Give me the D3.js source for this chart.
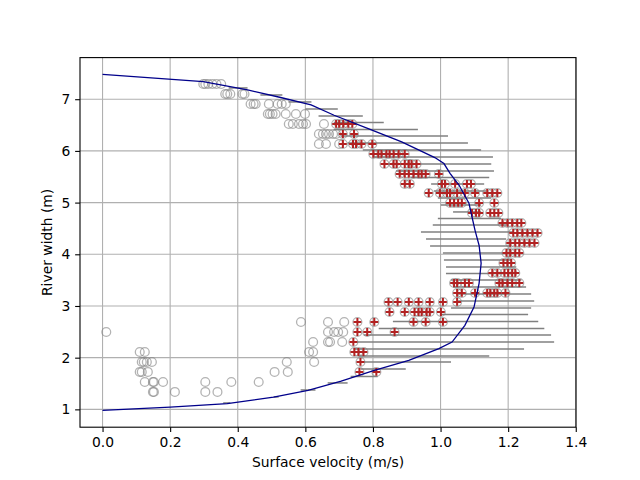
<!DOCTYPE html>
<html><head><meta charset="utf-8">
<script src="https://cdn.jsdelivr.net/npm/d3@7"></script>
<style>body{margin:0;background:#fff}svg{display:block}text{font-family:"DejaVu Sans",sans-serif}</style>
</head><body><svg id="c" width="640" height="480"></svg>
<script>
// Row positions (river width, m) of the measured samples
const rowWidth = [7.295,7.101,6.908,6.714,6.521,6.327,6.134,5.941,5.747,5.554,5.361,5.186,4.993,4.800,4.606,4.413,4.219,4.026,3.832,3.639,3.445,3.252,3.078,2.884,2.691,2.497,2.304,2.110,1.917,1.724,1.530,1.337];
// Rejected samples (grey circles only)
const rejectedVel = [
 [0.298,0.304,0.313,0.325,0.337,0.351],
 [0.363,0.369,0.378,0.414,0.420],
 [0.438,0.447,0.453,0.492,0.518,0.530,0.542],
 [0.489,0.495,0.503,0.512,0.542,0.572,0.599],
 [0.551,0.563,0.581,0.593,0.602,0.655],
 [0.640,0.652,0.661,0.670,0.682,0.691],
 [0.640,0.661,0.700],
 [],[],[],[],[],[],[],[],[],[],[],[],[],[],[],[],[],
 [0.587,0.667,0.715],
 [0.011,0.667,0.685,0.697,0.712],
 [0.623,0.667,0.673,0.709],
 [0.110,0.125,0.611,0.623],
 [0.116,0.122,0.131,0.146,0.545,0.626],
 [0.110,0.116,0.134,0.509,0.548],
 [0.125,0.149,0.152,0.179,0.304,0.381,0.462],
 [0.149,0.152,0.214,0.304,0.340]
];
// Accepted samples (grey circle + red plus)
const acceptedVel = [
 [],[],[],[],
 [0.691,0.700,0.712,0.727,0.739],
 [0.711,0.744],
 [0.711,0.741,0.750,0.766,0.798],
 [0.801,0.816,0.825,0.840,0.849,0.861,0.876,0.894],
 [0.834,0.861,0.870,0.894,0.906,0.914,0.929],
 [0.879,0.894,0.906,0.920,0.935,0.944,0.956,0.995],
 [0.894,0.909,1.004,1.013,1.043,1.078,1.090],
 [0.965,0.998,1.019,1.028,1.049,1.072,1.102,1.138,1.153,1.168],
 [1.028,1.040,1.052,1.063,1.114,1.159],
 [1.093,1.105,1.114,1.147,1.159,1.171],
 [1.183,1.198,1.212,1.227,1.239],
 [1.215,1.227,1.242,1.257,1.272,1.287],
 [1.206,1.221,1.233,1.248,1.263,1.278],
 [1.195,1.206,1.221,1.233],
 [1.186,1.198,1.209],
 [1.153,1.168,1.189,1.200,1.212,1.221],
 [1.040,1.049,1.072,1.084,1.174,1.183,1.198,1.212,1.233],
 [1.049,1.063,1.102,1.138,1.147,1.159,1.168,1.192],
 [0.846,0.873,0.906,0.935,0.968,1.007,1.049],
 [0.849,0.894,0.923,0.935,0.944,0.959,0.968,1.001],
 [0.754,0.804,0.920,0.956,1.007],
 [0.754,0.783,0.864],
 [0.742],
 [0.745,0.757,0.772],
 [0.763],
 [0.760,0.810],
 [],[]
];
// Binned velocity ranges (error bars)
const binWidth = [7.218,7.082,6.947,6.812,6.676,6.550,6.415,6.289,6.154,6.019,5.883,5.748,5.612,5.486,5.361,5.225,5.090,4.954,4.819,4.693,4.567,4.432,4.296,4.161,4.026,3.890,3.755,3.629,3.503,3.368,3.233,3.097,2.962,2.836,2.701,2.565,2.439,2.304,2.169,2.033,1.917,1.782,1.636,1.511,1.375,1.240,1.124];
const binLow  = [0.373,0.467,0.550,0.600,0.639,0.684,0.684,0.705,0.725,0.770,0.802,0.838,0.868,0.912,0.972,0.980,0.992,1.001,1.037,0.992,0.977,0.942,0.957,0.969,1.007,1.010,1.016,1.016,1.031,1.037,1.046,1.052,1.031,1.001,0.859,0.817,0.773,0.743,0.743,0.758,0.755,0.764,0.734,0.666,0.586,0.506,0.357];
const binHigh = [0.429,0.532,0.618,0.696,0.770,0.832,0.933,1.022,1.081,1.120,1.155,1.150,1.158,1.144,1.129,1.135,1.150,1.120,1.120,1.179,1.194,1.215,1.194,1.209,1.230,1.209,1.224,1.215,1.239,1.253,1.268,1.277,1.268,1.259,1.289,1.307,1.327,1.336,1.247,1.144,1.031,0.897,0.814,0.725,0.630,0.521,0.378];
// Fitted profile
const profVel   = [0,0.298,0.429,0.527,0.617,0.685,0.786,0.885,0.983,1.010,1.028,1.055,1.084,1.102,1.114,1.120,1.114,1.099,1.072,1.034,0.995,0.906,0.804,0.706,0.608,0.506,0.369,0.200,0];
const profWidth = [7.48,7.342,7.180,7.033,6.889,6.690,6.433,6.173,5.871,5.755,5.567,5.335,4.987,4.464,4.174,3.826,3.439,2.980,2.626,2.302,2.175,1.948,1.755,1.548,1.368,1.238,1.110,1.045,0.98];
const xTicks = [0,0.2,0.4,0.6,0.8,1.0,1.2,1.4];
const yTicks = [1,2,3,4,5,6,7];

const svg = d3.select("#c");
const L=80,R=576,T=57.6,B=427.2;
const x = d3.scaleLinear().domain([-0.0667,1.4007]).range([L,R]);
const y = d3.scaleLinear().domain([0.655,7.805]).range([B,T]);
const fs = 13.89;

// grid
const g = svg.append("g");
g.selectAll(".gx").data(xTicks).join("line").attr("x1",d=>x(d)).attr("x2",d=>x(d)).attr("y1",T).attr("y2",B).attr("stroke","#b0b0b0").attr("stroke-width",1.1);
g.selectAll(".gy").data(yTicks).join("line").attr("y1",d=>y(d)).attr("y2",d=>y(d)).attr("x1",L).attr("x2",R).attr("stroke","#b0b0b0").attr("stroke-width",1.1);

// grey circles for all samples
const pts = [];
rowWidth.forEach((w,i)=>{
  rejectedVel[i].forEach(v=>pts.push({v,w,ok:false}));
  acceptedVel[i].forEach(v=>pts.push({v,w,ok:true}));
});
svg.append("g").selectAll("circle").data(pts).join("circle")
  .attr("cx",d=>x(d.v)).attr("cy",d=>y(d.w)).attr("r",4.4)
  .attr("fill","none").attr("stroke","#808080").attr("stroke-opacity",0.6).attr("stroke-width",1.3);

// error bars
svg.append("g").selectAll("line").data(binWidth).join("line")
  .attr("x1",(d,i)=>x(binLow[i])).attr("x2",(d,i)=>x(binHigh[i]))
  .attr("y1",d=>y(d)).attr("y2",d=>y(d))
  .attr("stroke","#808080").attr("stroke-width",1.5);

// red plus for accepted
svg.append("g").selectAll("path").data(pts.filter(d=>d.ok)).join("path")
  .attr("transform",d=>`translate(${x(d.v)},${y(d.w)})`)
  .attr("d","M-3.9,0H3.9M0,-3.9V3.9")
  .attr("stroke","#b22222").attr("stroke-width",2).attr("fill","none");

// profile
svg.append("path").datum(profVel.map((v,i)=>[v,profWidth[i]]))
  .attr("d",d3.line().x(d=>x(d[0])).y(d=>y(d[1])))
  .attr("fill","none").attr("stroke","#00008b").attr("stroke-width",1.3);

// axes
const ax = svg.append("g").attr("transform",`translate(0,${B})`)
  .call(d3.axisBottom(x).tickValues(xTicks).tickFormat(d3.format(".1f")).tickSize(4.86).tickPadding(4.86).tickSizeOuter(0));
const ay = svg.append("g").attr("transform",`translate(${L},0)`)
  .call(d3.axisLeft(y).tickValues(yTicks).tickFormat(d3.format("d")).tickSize(4.86).tickPadding(4.86).tickSizeOuter(0));
[ax,ay].forEach(a=>{a.select(".domain").remove();a.selectAll("line").attr("stroke","#000").attr("stroke-width",1.1);
  a.selectAll("text").attr("font-size",fs).attr("font-family","DejaVu Sans").attr("fill","#000");});
svg.append("rect").attr("x",L).attr("y",T).attr("width",R-L).attr("height",B-T).attr("fill","none").attr("stroke","#000").attr("stroke-width",1.1);

svg.append("text").attr("x",(L+R)/2).attr("y",467).attr("text-anchor","middle").attr("font-size",fs).text("Surface velocity (m/s)");
svg.append("text").attr("transform",`translate(52,${(T+B)/2}) rotate(-90)`).attr("text-anchor","middle").attr("font-size",fs).text("River width (m)");
</script></body></html>
